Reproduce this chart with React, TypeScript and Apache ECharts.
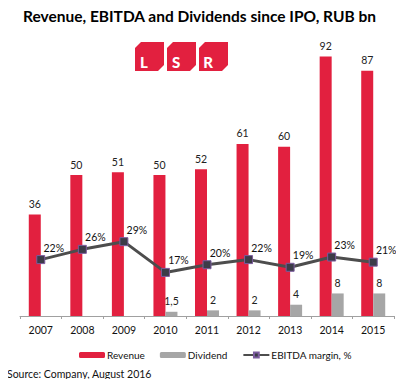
import React, { useEffect, useRef } from "react";
import * as echarts from "echarts";

const years = ["2007", "2008", "2009", "2010", "2011", "2012", "2013", "2014", "2015"];
const revenue = [36, 50, 51, 50, 52, 61, 60, 92, 87];
const dividend: (number | null)[] = [null, null, null, 1.5, 2, 2, 4, 8, 8];
const ebitdaMargin = [22, 26, 29, 17, 20, 22, 19, 23, 21];
const logoLetters = ["L", "S", "R"];

const RED = "#E2203F";
const GREY = "#A6A6A6";
const FONT = "Lato";

function fmtNum(v: number) {
  return String(v).replace(".", ",");
}

export default function App() {
  const ref = useRef<HTMLDivElement>(null);
  useEffect(() => {
    if (!ref.current) return;
    const chart = echarts.init(ref.current, null, { renderer: "svg" });
    const blockW = 29;
    const blockH = 29;
    const ch = 6;
    const logoChildren: any[] = [];
    logoLetters.forEach((ltr, i) => {
      const x0 = i * 32;
      logoChildren.push({
        type: "polygon",
        shape: {
          points: [
            [x0 + ch, 0],
            [x0 + blockW, 0],
            [x0 + blockW, blockH - ch],
            [x0 + blockW - ch, blockH],
            [x0, blockH],
            [x0, ch],
          ],
        },
        style: { fill: RED },
      });
      logoChildren.push({
        type: "text",
        x: x0 + 9,
        y: 19.5,
        style: {
          text: ltr,
          fill: "#fff",
          font: `900 15px ${FONT}`,
          align: "center",
          verticalAlign: "middle",
        },
      });
    });

    chart.setOption({
      animation: false,
      backgroundColor: "#fff",
      textStyle: { fontFamily: FONT },
      title: {
        text: "Revenue, EBITDA and Dividends since IPO, RUB bn",
        left: 18,
        top: 3,
        textStyle: { fontSize: 15.5, fontWeight: "bold", color: "#000", fontFamily: FONT },
      },
      graphic: [
        { type: "group", x: 135, y: 42, children: logoChildren },
        {
          type: "text",
          left: 7,
          top: 368,
          style: { text: "Source: Company, August 2016", fill: "#111", font: `10.5px ${FONT}` },
        },
      ],
      legend: {
        left: 79,
        top: 350,
        padding: 0,
        itemWidth: 26,
        itemHeight: 6,
        itemGap: 15,
        textStyle: { fontSize: 10, color: "#111", padding: [0, 0, 0, -3] },
        data: ["Revenue", "Dividend", "EBITDA margin, %"],
      },
      grid: { left: 20, right: 10, top: 34, bottom: 71, containLabel: false },
      xAxis: {
        type: "category",
        data: years,
        axisLine: { lineStyle: { color: "#A0A0A0", width: 1 } },
        axisTick: { show: true, length: 3, lineStyle: { color: "#A0A0A0" } },
        axisLabel: { fontSize: 10.5, color: "#111", margin: 8 },
      },
      yAxis: [
        { type: "value", min: 0, max: 100, show: false, splitLine: { show: false } },
        { type: "value", min: 0, max: 110, show: false, splitLine: { show: false } },
      ],
      series: [
        {
          name: "Revenue",
          type: "bar",
          data: revenue,
          barWidth: 12,
          barGap: "0%",
          itemStyle: { color: RED },
          label: {
            show: true,
            position: "top",
            distance: 5,
            fontSize: 10.5,
            color: "#222",
            formatter: (p: any) => fmtNum(p.value),
          },
        },
        {
          name: "Dividend",
          type: "bar",
          data: dividend,
          barWidth: 12,
          barGap: "0%",
          itemStyle: { color: GREY },
          label: {
            show: true,
            position: "top",
            distance: 5,
            fontSize: 10.5,
            color: "#222",
            formatter: (p: any) => (p.value == null ? "" : fmtNum(p.value)),
          },
        },
        {
          name: "EBITDA margin, %",
          type: "line",
          yAxisIndex: 1,
          data: ebitdaMargin,
          z: 5,
          symbol: "rect",
          symbolSize: 8,
          lineStyle: { color: "#4D4D4D", width: 3 },
          itemStyle: { color: "#3C3C48", borderColor: "#7B5C9E", borderWidth: 1 },
          label: {
            show: true,
            position: "top",
            distance: 2,
            offset: [13, 0],
            fontSize: 10.5,
            color: "#111",
            formatter: "{c}%",
          },
        },
      ],
    });
    return () => chart.dispose();
  }, []);
  return <div ref={ref} style={{ width: 404, height: 387, margin: -8 }} />;
}
